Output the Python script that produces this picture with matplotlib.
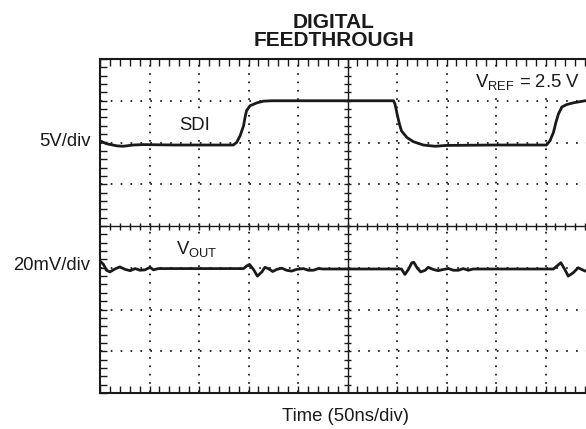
import matplotlib
matplotlib.use("Agg")
import matplotlib.pyplot as plt
import numpy as np
from matplotlib.collections import LineCollection

plt.rcParams['font.family'] = ['Liberation Sans', 'DejaVu Sans']
plt.rcParams['mathtext.fontset'] = 'custom'
plt.rcParams['mathtext.rm'] = 'Liberation Sans'
plt.rcParams['lines.scale_dashes'] = False

# traces in screen divisions (x: 0..10, y: -4..4)
sdi_t = [0.0, 0.13, 0.34, 0.47, 0.67, 0.87, 1.5, 2.0, 2.5, 2.69, 2.76, 2.83, 2.90, 2.93, 2.96,
         3.03, 3.17, 3.30, 3.47, 4.5, 5.5, 5.93, 5.96, 6.01, 6.05, 6.09, 6.20, 6.33, 6.53,
         6.77, 7.0, 8.0, 9.02, 9.09, 9.16, 9.21, 9.26, 9.33, 9.43, 9.56, 9.80, 10.0]
sdi_v = [2.04, 1.97, 1.92, 1.91, 1.94, 1.95, 1.94, 1.94, 1.94, 1.94, 2.0, 2.16, 2.40, 2.60, 2.76,
         2.88, 2.95, 2.99, 3.0, 3.0, 3.0, 3.0, 2.92, 2.64, 2.44, 2.28, 2.12, 2.02, 1.94,
         1.91, 1.93, 1.94, 1.94, 2.04, 2.24, 2.48, 2.68, 2.85, 2.91, 2.95, 3.0, 3.0]

vout_t = [0.0, 0.07, 0.13, 0.20, 0.30, 0.40, 0.51, 0.61, 0.71, 0.81, 0.91, 1.01, 1.08, 1.18,
          2.0, 2.90, 2.96, 3.02, 3.10, 3.18, 3.27, 3.33, 3.40, 3.49, 3.57, 3.67, 3.77, 3.87,
          3.97, 4.11, 4.21, 4.31, 4.41, 4.51, 5.5, 6.09, 6.16, 6.23, 6.30, 6.34, 6.41, 6.48,
          6.57, 6.63, 6.73, 6.83, 6.94, 7.04, 7.14, 7.24, 7.34, 7.44, 7.54, 7.61, 8.5, 9.16,
          9.23, 9.31, 9.39, 9.46, 9.56, 9.66, 9.80, 9.9, 10.0]
vout_v = [-0.84, -0.92, -1.06, -1.10, -1.03, -0.98, -1.04, -1.07, -1.02, -1.06, -1.05, -0.99, -1.05, -1.02,
          -1.02, -1.02, -0.96, -0.92, -1.04, -1.20, -1.10, -0.99, -1.02, -1.09, -1.04, -1.01, -1.06, -1.08,
          -1.04, -1.02, -1.06, -1.06, -1.02, -1.03, -1.03, -1.03, -1.16, -1.04, -0.88, -0.87, -1.01, -1.10,
          -1.06, -0.99, -1.04, -1.07, -1.04, -1.02, -1.06, -1.06, -1.02, -1.06, -1.03, -1.03, -1.03, -1.03,
          -0.96, -0.88, -1.04, -1.20, -1.12, -1.00, -1.08, -1.04, -1.02]

W, H = 586, 429
fig = plt.figure(figsize=(W / 100, H / 100), dpi=100)
ax_l, ax_t, ax_w, ax_h = 100, 59, 495, 334
ax = fig.add_axes([ax_l / W, 1 - (ax_t + ax_h) / H, ax_w / W, ax_h / H])
ax.set_xlim(0, 10)
ax.set_ylim(-4, 4)

ink = '#1a1a1a'
for s in ax.spines.values():
    s.set_linewidth(1.5)
    s.set_color(ink)

ax.set_xticks(np.arange(0, 10.01, 0.2))
ax.set_yticks(np.arange(-4, 4.01, 0.2))
ax.set_xticklabels([])
ax.set_yticklabels([])
ax.tick_params(direction='in', length=5, width=1, color=ink,
               top=True, bottom=True, left=True, right=True)

# dotted graticule, one dot every minor division
px_pt = 72 / 100
dx = 0.2 * ax_w / 10 * px_pt
dy = 0.2 * ax_h / 8 * px_pt
on = 1.2
for y in [-3, -2, -1, 1, 2, 3]:
    ax.plot([0, 10], [y, y], color=ink, lw=1.3, dash_capstyle='butt', zorder=1,
            linestyle=(dx - on / 2, (on, dx - on)))
for x in [1, 2, 3, 4, 6, 7, 8, 9]:
    ax.plot([x, x], [-4, 4], color=ink, lw=1.3, dash_capstyle='butt', zorder=1,
            linestyle=(dy - on / 2, (on, dy - on)))

# centre axes with crossing ticks
ax.axvline(5, color=ink, lw=1.0, zorder=1)
ax.axhline(0, color=ink, lw=1.0, zorder=1)
hx = 3.5 / (ax_w / 10)
hy = 3.5 / (ax_h / 8)
segs = [[(t, -hy), (t, hy)] for t in np.arange(0.2, 10, 0.2)]
segs += [[(5 - hx, t), (5 + hx, t)] for t in np.arange(-3.8, 4, 0.2)]
ax.add_collection(LineCollection(segs, colors=ink, linewidths=1.0, zorder=1))

ax.plot(sdi_t, sdi_v, color=ink, lw=2.0, solid_joinstyle='round', solid_capstyle='round', zorder=3)
ax.plot(vout_t, vout_v, color=ink, lw=2.0, solid_joinstyle='round', solid_capstyle='round', zorder=3)


def fx(x):
    return x / W


def fy(y):
    return 1 - y / H


fs = 13.3
box = dict(facecolor='white', edgecolor='none', pad=1.5)
fig.text(fx(334), fy(28), 'DIGITAL', ha='center', va='baseline', fontsize=15, fontweight='bold', color=ink)
fig.text(fx(334), fy(46.5), 'FEEDTHROUGH', ha='center', va='baseline', fontsize=15, fontweight='bold', color=ink)
fig.text(fx(91), fy(146.5), '5V/div', ha='right', va='baseline', fontsize=fs, color=ink)
fig.text(fx(90), fy(270), '20mV/div', ha='right', va='baseline', fontsize=fs, color=ink)
fig.text(fx(345.5), fy(421), 'Time (50ns/div)', ha='center', va='baseline', fontsize=fs, color=ink)
fig.text(fx(179), fy(130), 'SDI', ha='left', va='baseline', fontsize=fs, color=ink, bbox=box)
fig.text(fx(176), fy(254), r'$\mathregular{V_{OUT}}$', ha='left', va='baseline', fontsize=fs, color=ink, bbox=box)
fig.text(fx(475), fy(86.5), r'$\mathregular{V_{REF}}$ = 2.5 V', ha='left', va='baseline', fontsize=fs, color=ink, bbox=box)

fig.savefig('out.png', dpi=100)
